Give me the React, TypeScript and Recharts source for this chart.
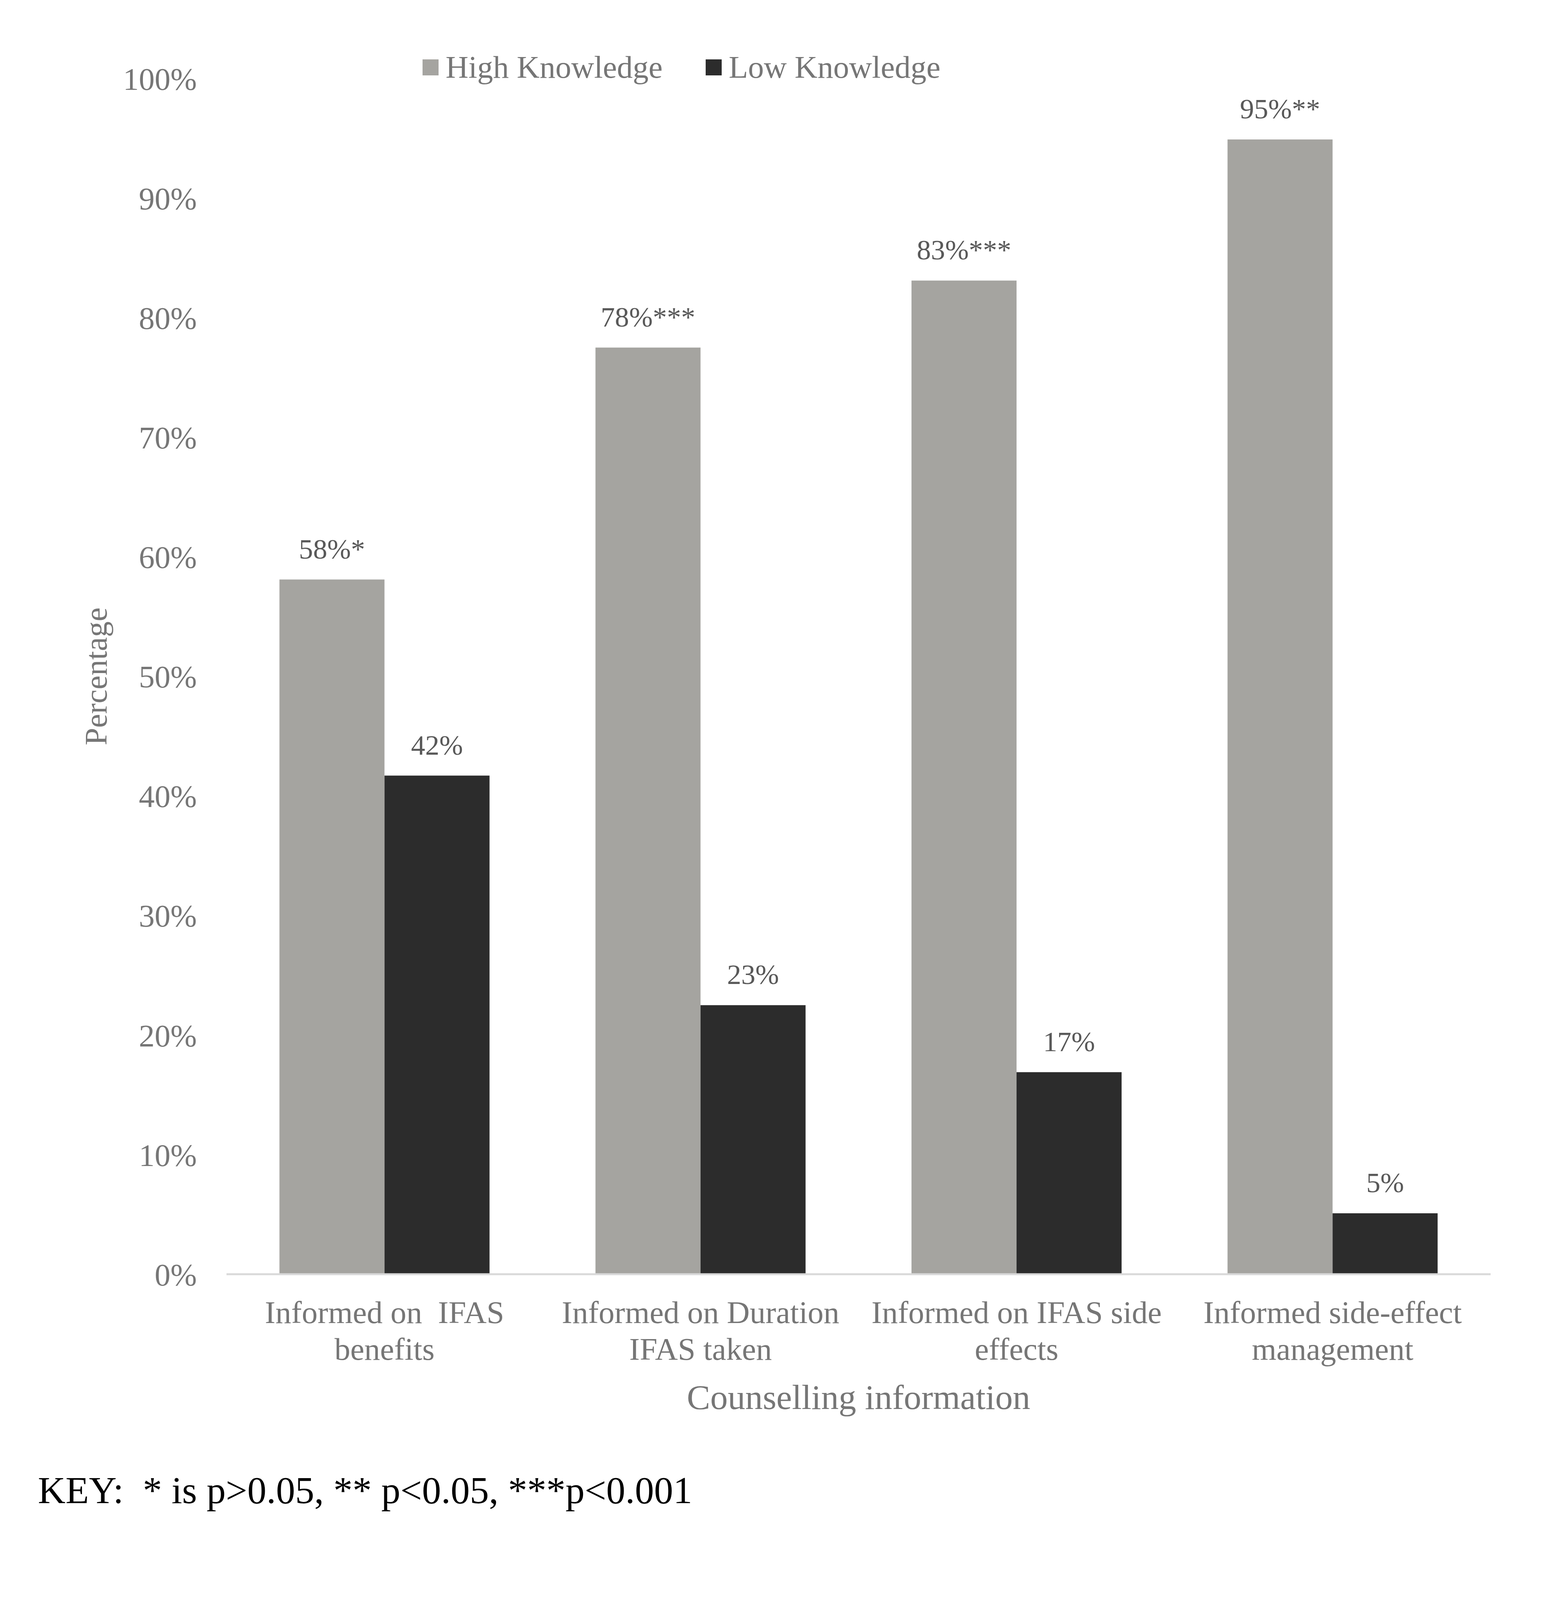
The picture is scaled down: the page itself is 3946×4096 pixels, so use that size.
import React from "react";
import { BarChart, Bar, XAxis, YAxis, Legend, LabelList, Label } from "recharts";

const categories = [
  "Informed on  IFAS benefits",
  "Informed on Duration IFAS taken",
  "Informed on IFAS side effects",
  "Informed side-effect management",
];
const highKnowledge = [58.1, 77.5, 83.1, 94.9];
const lowKnowledge = [41.7, 22.5, 16.9, 5.1];
const significance = ["*", "***", "***", "**"];
const yTicks = [0, 10, 20, 30, 40, 50, 60, 70, 80, 90, 100];
const keyText = "KEY:  * is p>0.05, ** p<0.05, ***p<0.001";

const FONT = "'Liberation Serif', 'Times New Roman', serif";
const GREY_TEXT = "#767676";
const LABEL_TEXT = "#595959";
const HIGH_COLOR = "#A5A4A0";
const LOW_COLOR = "#2C2C2C";

const data = categories.map((name, i) => ({
  name,
  high: highKnowledge[i],
  low: lowKnowledge[i],
  highLabel: `${Math.round(highKnowledge[i])}%${significance[i]}`,
  lowLabel: `${Math.round(lowKnowledge[i])}%`,
}));

// greedy wrap like Excel does for the category labels
const wrapLabel = (label: string, maxChars = 21) => {
  const words = label.split(" ");
  const lines: string[] = [];
  let current = "";
  words.forEach((w) => {
    const next = current === "" ? w : `${current} ${w}`;
    if (next.length > maxChars && current.trim() !== "") {
      lines.push(current);
      current = w;
    } else {
      current = next;
    }
  });
  if (current) lines.push(current);
  return lines;
};

const CategoryTick = (props: any) => {
  const { x, y, payload } = props;
  const lines = wrapLabel(payload.value);
  return (
    <text
      x={x}
      y={y + 125}
      textAnchor="middle"
      fontFamily={FONT}
      fontSize={81}
      fill={GREY_TEXT}
      style={{ whiteSpace: "pre" }}
    >
      {lines.map((line, i) => (
        <tspan key={i} x={x} dy={i === 0 ? 0 : 94}>
          {line}
        </tspan>
      ))}
    </text>
  );
};

const BarValueLabel = (props: any) => {
  const { x, y, width, value } = props;
  return (
    <text
      x={Number(x) + Number(width) / 2}
      y={Number(y) - 54}
      textAnchor="middle"
      fontFamily={FONT}
      fontSize={72.6}
      fill={LABEL_TEXT}
    >
      {value}
    </text>
  );
};

const LegendContent = (props: any) => {
  const { payload = [] } = props;
  return (
    <svg width={1500} height={90} style={{ overflow: "visible" }}>
      {payload.map((entry: any, i: number) => (
        <g key={entry.value} transform={`translate(${i * 725}, 0)`}>
          <rect x={0} y={15} width={41} height={41} fill={entry.color} />
          <text x={59} y={62} fontFamily={FONT} fontSize={81} fill={GREY_TEXT}>
            {entry.value}
          </text>
        </g>
      ))}
    </svg>
  );
};

export default function App() {
  return (
    <div style={{ position: "absolute", left: 0, top: 0, width: 3946, height: 4096, background: "#fff" }}>
      <BarChart
        width={3946}
        height={4096}
        data={data}
        margin={{ top: 201, right: 129, bottom: 434, left: 0 }}
        barCategoryGap="16.75%"
        barGap={0}
      >
        <XAxis
          dataKey="name"
          interval={0}
          height={400}
          tickLine={false}
          tickSize={0}
          tickMargin={0}
          axisLine={{ stroke: "#D9D9D9", strokeWidth: 5 }}
          tick={<CategoryTick />}
        >
          <Label
            content={(p: any) => {
              const vb = p.viewBox || {};
              return (
                <text
                  x={vb.x + vb.width / 2}
                  y={vb.y + 345}
                  textAnchor="middle"
                  fontFamily={FONT}
                  fontSize={89.7}
                  fill={GREY_TEXT}
                >
                  Counselling information
                </text>
              );
            }}
          />
        </XAxis>
        <YAxis
          width={580}
          domain={[0, 100]}
          ticks={yTicks}
          interval={0}
          tickFormatter={(v) => `${v}%`}
          axisLine={false}
          tickLine={false}
          tickSize={0}
          tickMargin={76}
          tick={{ fill: GREY_TEXT, fontSize: 81, fontFamily: FONT }}
        >
          <Label
            content={(p: any) => {
              const vb = p.viewBox || {};
              const cx = vb.x + 273;
              const cy = vb.y + vb.height / 2;
              return (
                <text
                  x={cx}
                  y={cy}
                  transform={`rotate(-90, ${cx}, ${cy})`}
                  textAnchor="middle"
                  fontFamily={FONT}
                  fontSize={80.5}
                  fill={GREY_TEXT}
                >
                  Percentage
                </text>
              );
            }}
          />
        </YAxis>
        <Legend
          verticalAlign="middle"
          align="center"
          layout="horizontal"
          wrapperStyle={{ top: 137, left: 1082, width: 1500, height: 90 }}
          content={<LegendContent />}
        />
        <Bar dataKey="high" name="High Knowledge" fill={HIGH_COLOR} isAnimationActive={false}>
          <LabelList dataKey="highLabel" content={<BarValueLabel />} />
        </Bar>
        <Bar dataKey="low" name="Low Knowledge" fill={LOW_COLOR} isAnimationActive={false}>
          <LabelList dataKey="lowLabel" content={<BarValueLabel />} />
        </Bar>
      </BarChart>
      <svg
        width={3946}
        height={4096}
        style={{ position: "absolute", left: 0, top: 0, pointerEvents: "none" }}
      >
        <text x={97} y={3848} fontFamily={FONT} fontSize={98} fill="#000" style={{ whiteSpace: "pre" }}>
          {keyText}
        </text>
      </svg>
    </div>
  );
}
